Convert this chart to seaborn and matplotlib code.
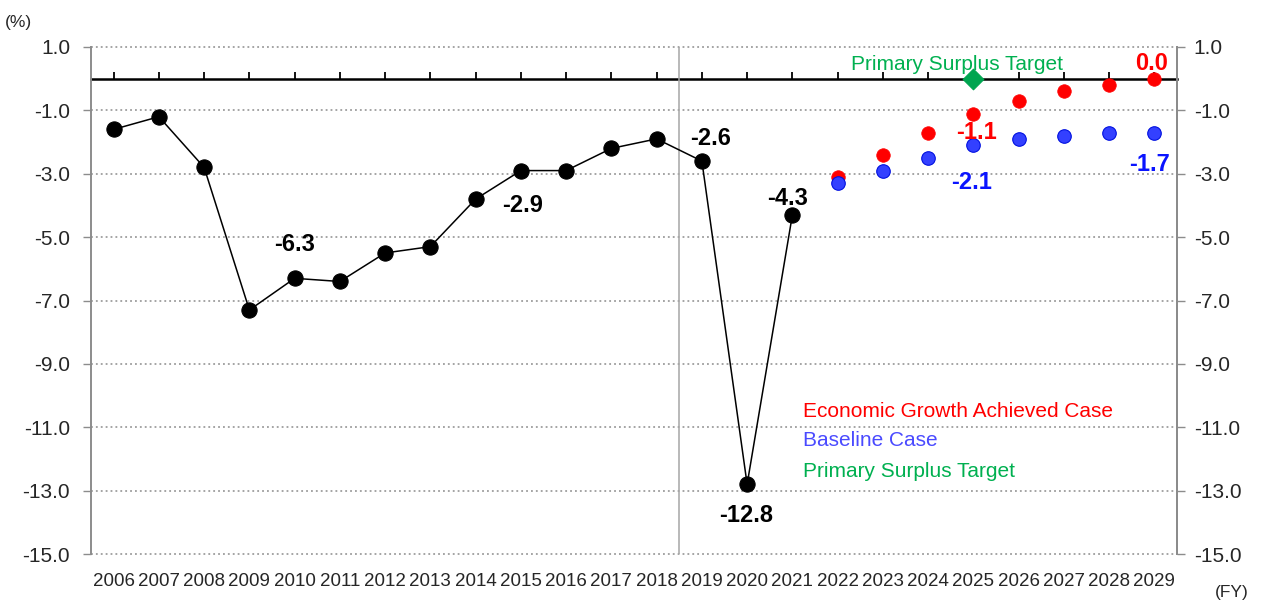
import matplotlib
matplotlib.use("Agg")
import matplotlib.pyplot as plt
import seaborn as sns
import pandas as pd
import numpy as np

# ---- data ----
hist_years = list(range(2006, 2022))
hist_values = [-1.6, -1.2, -2.8, -7.3, -6.3, -6.4, -5.5, -5.3, -3.8, -2.9, -2.9, -2.2, -1.9, -2.6, -12.8, -4.3]
proj_years = list(range(2022, 2030))
growth_values = [-3.1, -2.4, -1.7, -1.1, -0.7, -0.4, -0.2, 0.0]
baseline_values = [-3.3, -2.9, -2.5, -2.1, -1.9, -1.8, -1.7, -1.7]
target_year = [2025]
target_value = [0.0]
y_ticks = [1.0, -1.0, -3.0, -5.0, -7.0, -9.0, -11.0, -13.0, -15.0]
x_labels = [str(y) for y in range(2006, 2030)]
legend_labels = ["Economic Growth Achieved Case", "Baseline Case", "Primary Surplus Target"]

hist_df = pd.DataFrame({"year": hist_years, "value": hist_values})
growth_df = pd.DataFrame({"year": proj_years, "value": growth_values})
base_df = pd.DataFrame({"year": proj_years, "value": baseline_values})
target_df = pd.DataFrame({"year": target_year, "value": target_value})

sns.set_style("white")
plt.rcParams['font.family'] = ['Liberation Sans', 'DejaVu Sans']

RED = "#ff0000"
BLUE_FILL = "#3340ff"
BLUE_EDGE = "#0010e0"
BLUE_TXT = "#0a14ff"
GREEN = "#00b050"
GREEN_MK = "#00a550"
GRID = "#8c8c8c"

fig = plt.figure(figsize=(12.65, 6.05), dpi=100)
ax = fig.add_axes([91/1265, 1-554/605, (1177-91)/1265, (554-47)/605])

sns.lineplot(data=hist_df, x="year", y="value", ax=ax, color="black", lw=1.1,
             marker="o", markersize=11, markeredgecolor="black", markerfacecolor="black", zorder=5)
sns.scatterplot(data=growth_df, x="year", y="value", ax=ax, color=RED, s=95,
                edgecolor=RED, linewidth=0.5, zorder=5)
sns.scatterplot(data=base_df, x="year", y="value", ax=ax, color=BLUE_FILL, s=95,
                edgecolor=BLUE_EDGE, linewidth=0.8, zorder=6)
sns.scatterplot(data=target_df, x="year", y="value", ax=ax, color=GREEN_MK, s=110,
                marker="D", edgecolor=GREEN_MK, zorder=7, clip_on=False)

ax.set_xlim(2005.5, 2029.5)
ax.set_ylim(-15, 1)
ax.set_xlabel("")
ax.set_ylabel("")

# y axis
ax.set_yticks(y_ticks)
ax.set_yticklabels([f"{v:.1f}" for v in y_ticks], fontsize=15)
ax.tick_params(axis="y", direction="out", length=6, width=1, color=GRID, pad=9)
ax.yaxis.grid(True, color=GRID, linestyle=(0, (1.2, 2)), lw=1.1)
for gl in ax.get_ygridlines():
    gl.set_clip_on(False)

# x axis labels at the bottom
ax.set_xticks(range(2006, 2030))
ax.set_xticklabels(x_labels, fontsize=13.5)
ax.tick_params(axis="x", length=0, pad=14)

for s in ["top", "bottom"]:
    ax.spines[s].set_visible(False)
for s in ["left", "right"]:
    ax.spines[s].set_color(GRID)
    ax.spines[s].set_linewidth(1.4)

# zero line with upward ticks
sec = ax.secondary_xaxis(15/16)
sec.set_xticks(range(2006, 2030))
sec.set_xticklabels([])
sec.tick_params(axis="x", direction="out", length=5, width=1.3, color="black")
for s, sp in sec.spines.items():
    sp.set_color("black")
    sp.set_linewidth(1.8)

# vertical separator
ax.axvline(2018.5, color="#a6a6a6", lw=1.1, zorder=1)

# right axis
ax2 = ax.twinx()
ax2.set_ylim(-15, 1)
ax2.set_yticks(y_ticks)
ax2.set_yticklabels([f"{v:.1f}" for v in y_ticks], fontsize=15)
ax2.tick_params(axis="y", direction="out", length=6, width=1, color=GRID, pad=6)
for s in ["top", "bottom", "left"]:
    ax2.spines[s].set_visible(False)
ax2.spines["right"].set_color(GRID)
ax2.spines["right"].set_linewidth(1.4)

# data labels
lab_font = dict(fontsize=17, fontweight="bold", ha="center", va="center", zorder=8)

def note(x, y, txt, dx, dy, color):
    ax.annotate(txt, (x, y), xytext=(dx, dy), textcoords="offset points", color=color, **lab_font)

hmap = dict(zip(hist_years, hist_values))
note(2010, hmap[2010], f"{hmap[2010]:.1f}", 0, 24.5, "black")
note(2015, hmap[2015], f"{hmap[2015]:.1f}", 1, -25, "black")
note(2019, hmap[2019], f"{hmap[2019]:.1f}", 6, 16, "black")
note(2020, hmap[2020], f"{hmap[2020]:.1f}", -1, -22.5, "black")
note(2021, hmap[2021], f"{hmap[2021]:.1f}", -3.5, 11.5, "black")
gmap = dict(zip(proj_years, growth_values))
bmap = dict(zip(proj_years, baseline_values))
note(2025, gmap[2025], f"{gmap[2025]:.1f}", 2, -14, RED)
note(2029, gmap[2029], f"{gmap[2029]:.1f}", -2, 11, RED)
note(2025, bmap[2025], f"{bmap[2025]:.1f}", -1, -27, BLUE_TXT)
note(2029, bmap[2029], f"{bmap[2029]:.1f}", -3.5, -23, BLUE_TXT)

ax.annotate(legend_labels[2], (target_year[0], target_value[0]), xytext=(-11.5, 10),
            textcoords="offset points", ha="center", va="center", color=GREEN,
            fontsize=15, zorder=8)

# text legend
leg_colors = [RED, "#4a4aff", GREEN]
leg_y = [0.282, 0.223, 0.1637]
for txt, c, yy in zip(legend_labels, leg_colors, leg_y):
    ax.text(0.6556, yy, txt, transform=ax.transAxes, color=c, fontsize=15,
            ha="left", va="center")

fig.text(18/1265, 1-22/605, "(%)", fontsize=12.5, ha="center", va="center")
fig.text(1232/1265, 1-593/605, "(FY)", fontsize=12.5, ha="center", va="center")

fig.savefig("out.png", dpi=100)
